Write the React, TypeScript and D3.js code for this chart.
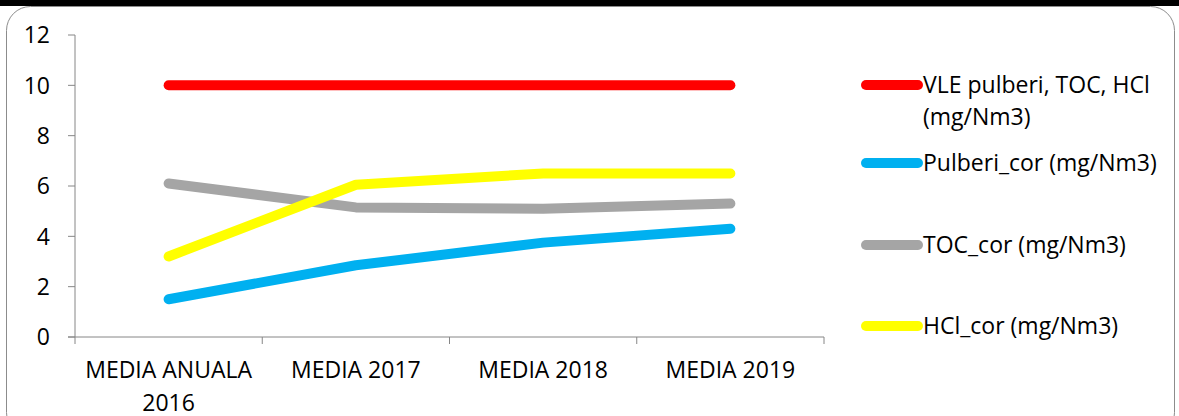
import React from "react";
import * as d3 from "d3";

const categories = ["MEDIA ANUALA 2016", "MEDIA 2017", "MEDIA 2018", "MEDIA 2019"];
const categoryLines = [["MEDIA ANUALA", "2016"], ["MEDIA 2017"], ["MEDIA 2018"], ["MEDIA 2019"]];
const vle = [10, 10, 10, 10];
const pulberi = [1.5, 2.85, 3.75, 4.3];
const toc = [6.1, 5.15, 5.1, 5.3];
const hcl = [3.2, 6.05, 6.5, 6.5];
const yTicks = [0, 2, 4, 6, 8, 10, 12];

const seriesNames = ["VLE pulberi, TOC, HCl (mg/Nm3)", "Pulberi_cor (mg/Nm3)", "TOC_cor (mg/Nm3)", "HCl_cor (mg/Nm3)"];
const legendLines = [["VLE pulberi, TOC, HCl", "(mg/Nm3)"], ["Pulberi_cor (mg/Nm3)"], ["TOC_cor (mg/Nm3)"], ["HCl_cor (mg/Nm3)"]];
const seriesColors = ["#FF0000", "#00B0F0", "#A5A5A5", "#FFFF00"];
const seriesData = [vle, pulberi, toc, hcl];

export default function App() {
  const W = 1179, H = 416;
  const left = 75, right = 824, top = 35, bottom = 337;
  const x = d3.scaleBand<string>().domain(categories).range([left, right]);
  const y = d3.scaleLinear().domain([0, 12]).range([bottom, top]);
  const line = d3.line<number>()
    .x((_, i) => (x(categories[i]) as number) + x.bandwidth() / 2)
    .y((d) => y(d));
  const font = "'Open Sans', sans-serif";
  const fs = 23;
  const legendY = [85, 163, 245, 326];
  const boundaries = categories.map((c) => x(c) as number).concat([right]);
  return (
    <svg width={W} height={H} style={{ position: "absolute", left: 0, top: 0, background: "#fff" }} fontFamily={font}>
      <rect x={0} y={0} width={W} height={H} fill="#fff" />
      <rect x={0} y={0} width={W} height={6} fill="#000" />
      <rect x={6.5} y={6.5} width={1168} height={430} rx={24} ry={24} fill="none" stroke="#8c8c8c" strokeWidth={1} />
      {/* y axis */}
      <line x1={left} x2={left} y1={top} y2={bottom} stroke="#868686" strokeWidth={1} />
      {yTicks.map((t) => (
        <g key={t}>
          <line x1={left - 7} x2={left} y1={y(t)} y2={y(t)} stroke="#868686" />
          <text x={left - 25} y={y(t)} dy="0.36em" textAnchor="end" fontSize={fs} fill="#000">{t}</text>
        </g>
      ))}
      {/* x axis */}
      <line x1={left - 7} x2={right} y1={bottom} y2={bottom} stroke="#868686" />
      {boundaries.map((b, i) => (
        <line key={i} x1={b} x2={b} y1={bottom} y2={bottom + 7} stroke="#868686" />
      ))}
      {categoryLines.map((ls, i) => (
        <text key={i} x={(x(categories[i]) as number) + x.bandwidth() / 2} y={370} textAnchor="middle" fontSize={fs} fill="#000">
          {ls.map((l, j) => (
            <tspan key={j} x={(x(categories[i]) as number) + x.bandwidth() / 2} dy={j === 0 ? "0.36em" : 33}>{l}</tspan>
          ))}
        </text>
      ))}
      {seriesData.map((s, i) => (
        <path key={i} d={line(s) || ""} fill="none" stroke={seriesColors[i]} strokeWidth={10} strokeLinecap="round" strokeLinejoin="round" />
      ))}
      {/* legend */}
      {seriesNames.map((n, i) => (
        <g key={n}>
          <line x1={866} x2={918} y1={legendY[i]} y2={legendY[i]} stroke={seriesColors[i]} strokeWidth={10} strokeLinecap="round" />
          <text x={923} y={legendY[i]} fontSize={fs} fill="#000">
            {legendLines[i].map((l, j) => (
              <tspan key={j} x={923} dy={j === 0 ? "0.36em" : 32}>{l}</tspan>
            ))}
          </text>
        </g>
      ))}
    </svg>
  );
}
